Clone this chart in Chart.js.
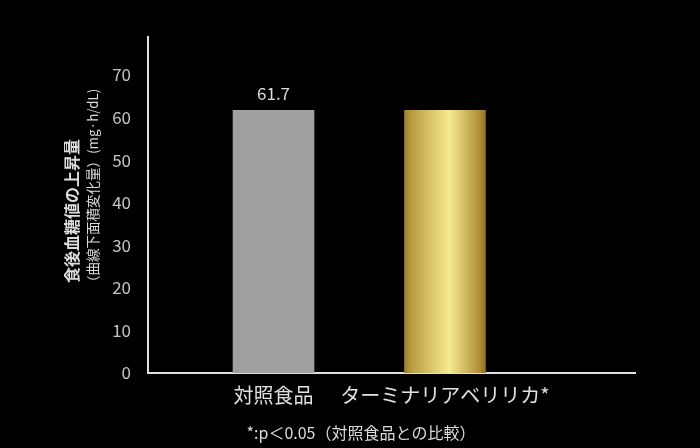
<!DOCTYPE html>
<html>
<head>
<meta charset="utf-8">
<script src="https://cdn.jsdelivr.net/npm/chart.js@4/dist/chart.umd.min.js"></script>
<style>
  html, body { margin: 0; padding: 0; background: #000; }
  #wrap { width: 700px; height: 448px; position: relative; background: #000; }
</style>
</head>
<body>
<div id="wrap"><canvas id="c"></canvas></div>
<script>
// ---- data ----
const categories = ['対照食品', 'ターミナリアベリリカ*'];
const values = [61.7, 61.7];
const valueLabels = ['61.7', ''];
const yTickValues = [0, 10, 20, 30, 40, 50, 60, 70];
const yTitleLines = ['食後血糖値の上昇量', '（曲線下面積変化量）(mg·h/dL)'];
const footnote = '*:p＜0.05（対照食品との比較）';

const FONT = '"Noto Sans CJK JP", "Noto Sans", sans-serif';

function barColor(ctx) {
  const chart = ctx.chart;
  if (ctx.dataIndex === 0) return '#a0a0a0';
  const xs = chart.scales.x;
  if (!chart.chartArea || !xs) return '#d8c060';
  const cx = xs.getPixelForValue(ctx.dataIndex + 1);
  const g = chart.ctx.createLinearGradient(cx - 40.5, 0, cx + 40.5, 0);
  g.addColorStop(0, '#9c7f2e');
  g.addColorStop(0.08, '#b89a40');
  g.addColorStop(0.55, '#f7eb8e');
  g.addColorStop(0.92, '#b0913a');
  g.addColorStop(1, '#8e7026');
  return g;
}

const textPlugin = {
  id: 'texts',
  afterDatasetsDraw(chart) {
    const c = chart.ctx;
    const meta = chart.getDatasetMeta(0);
    c.save();
    c.fillStyle = '#dcdcdc';
    c.font = '17px ' + FONT;
    c.textAlign = 'center';
    c.textBaseline = 'middle';
    meta.data.forEach((bar, i) => {
      if (valueLabels[i]) c.fillText(valueLabels[i], bar.x, bar.y - 17);
    });
    c.restore();
  },
  afterDraw(chart) {
    const c = chart.ctx;
    // y-axis title (rotated, start aligned)
    c.save();
    c.fillStyle = '#dcdcdc';
    c.textAlign = 'left';
    c.textBaseline = 'middle';
    c.translate(72, 283);
    c.rotate(-Math.PI / 2);
    c.font = 'bold 16px ' + FONT;
    c.fillText(yTitleLines[0], 0, 0);
    c.restore();
    c.save();
    c.fillStyle = '#dcdcdc';
    c.textAlign = 'left';
    c.textBaseline = 'middle';
    c.translate(93, 289);
    c.rotate(-Math.PI / 2);
    c.font = '13.5px ' + FONT;
    c.fillText(yTitleLines[1], 0, 0);
    c.restore();
    // footnote
    c.save();
    c.fillStyle = '#dcdcdc';
    c.font = '16px ' + FONT;
    c.textAlign = 'center';
    c.textBaseline = 'middle';
    c.fillText(footnote, 361, 433);
    c.restore();
  }
};

new Chart(document.getElementById('c'), {
  type: 'bar',
  data: {
    datasets: [{
      data: categories.map((cat, i) => ({ x: i + 1, y: values[i] })),
      backgroundColor: barColor,
      borderWidth: 0,
      barThickness: 81
    }]
  },
  options: {
    responsive: true,
    maintainAspectRatio: false,
    animation: false,
    devicePixelRatio: 1,
    layout: { padding: { left: 0, right: 65, top: 37, bottom: 0 } },
    plugins: { legend: { display: false }, tooltip: { enabled: false }, title: { display: false } },
    scales: {
      x: {
        type: 'linear',
        offset: false,
        min: 0.268,
        max: 3.108,
        grid: { display: false, offset: false },
        border: { display: true, color: '#e0e0e0', width: 2 },
        afterBuildTicks(scale) { scale.ticks = categories.map((c, i) => ({ value: i + 1 })); },
        afterFit(scale) { scale.height = 75; },
        ticks: {
          autoSkip: false,
          maxRotation: 0,
          padding: 2,
          color: '#e0e0e0',
          font: { family: FONT, size: 20 },
          callback: (v) => categories[Math.round(v) - 1] || ''
        }
      },
      y: {
        min: 0,
        max: 78.9,
        grid: { display: false },
        border: { display: true, color: '#e0e0e0', width: 2 },
        afterBuildTicks(scale) { scale.ticks = yTickValues.map(v => ({ value: v })); },
        afterFit(scale) { scale.width = 148; },
        ticks: {
          padding: 9,
          color: '#c4c4c4',
          font: { family: FONT, size: 17 },
          callback: (v) => String(v)
        }
      }
    }
  },
  plugins: [textPlugin]
});
</script>
</body>
</html>
